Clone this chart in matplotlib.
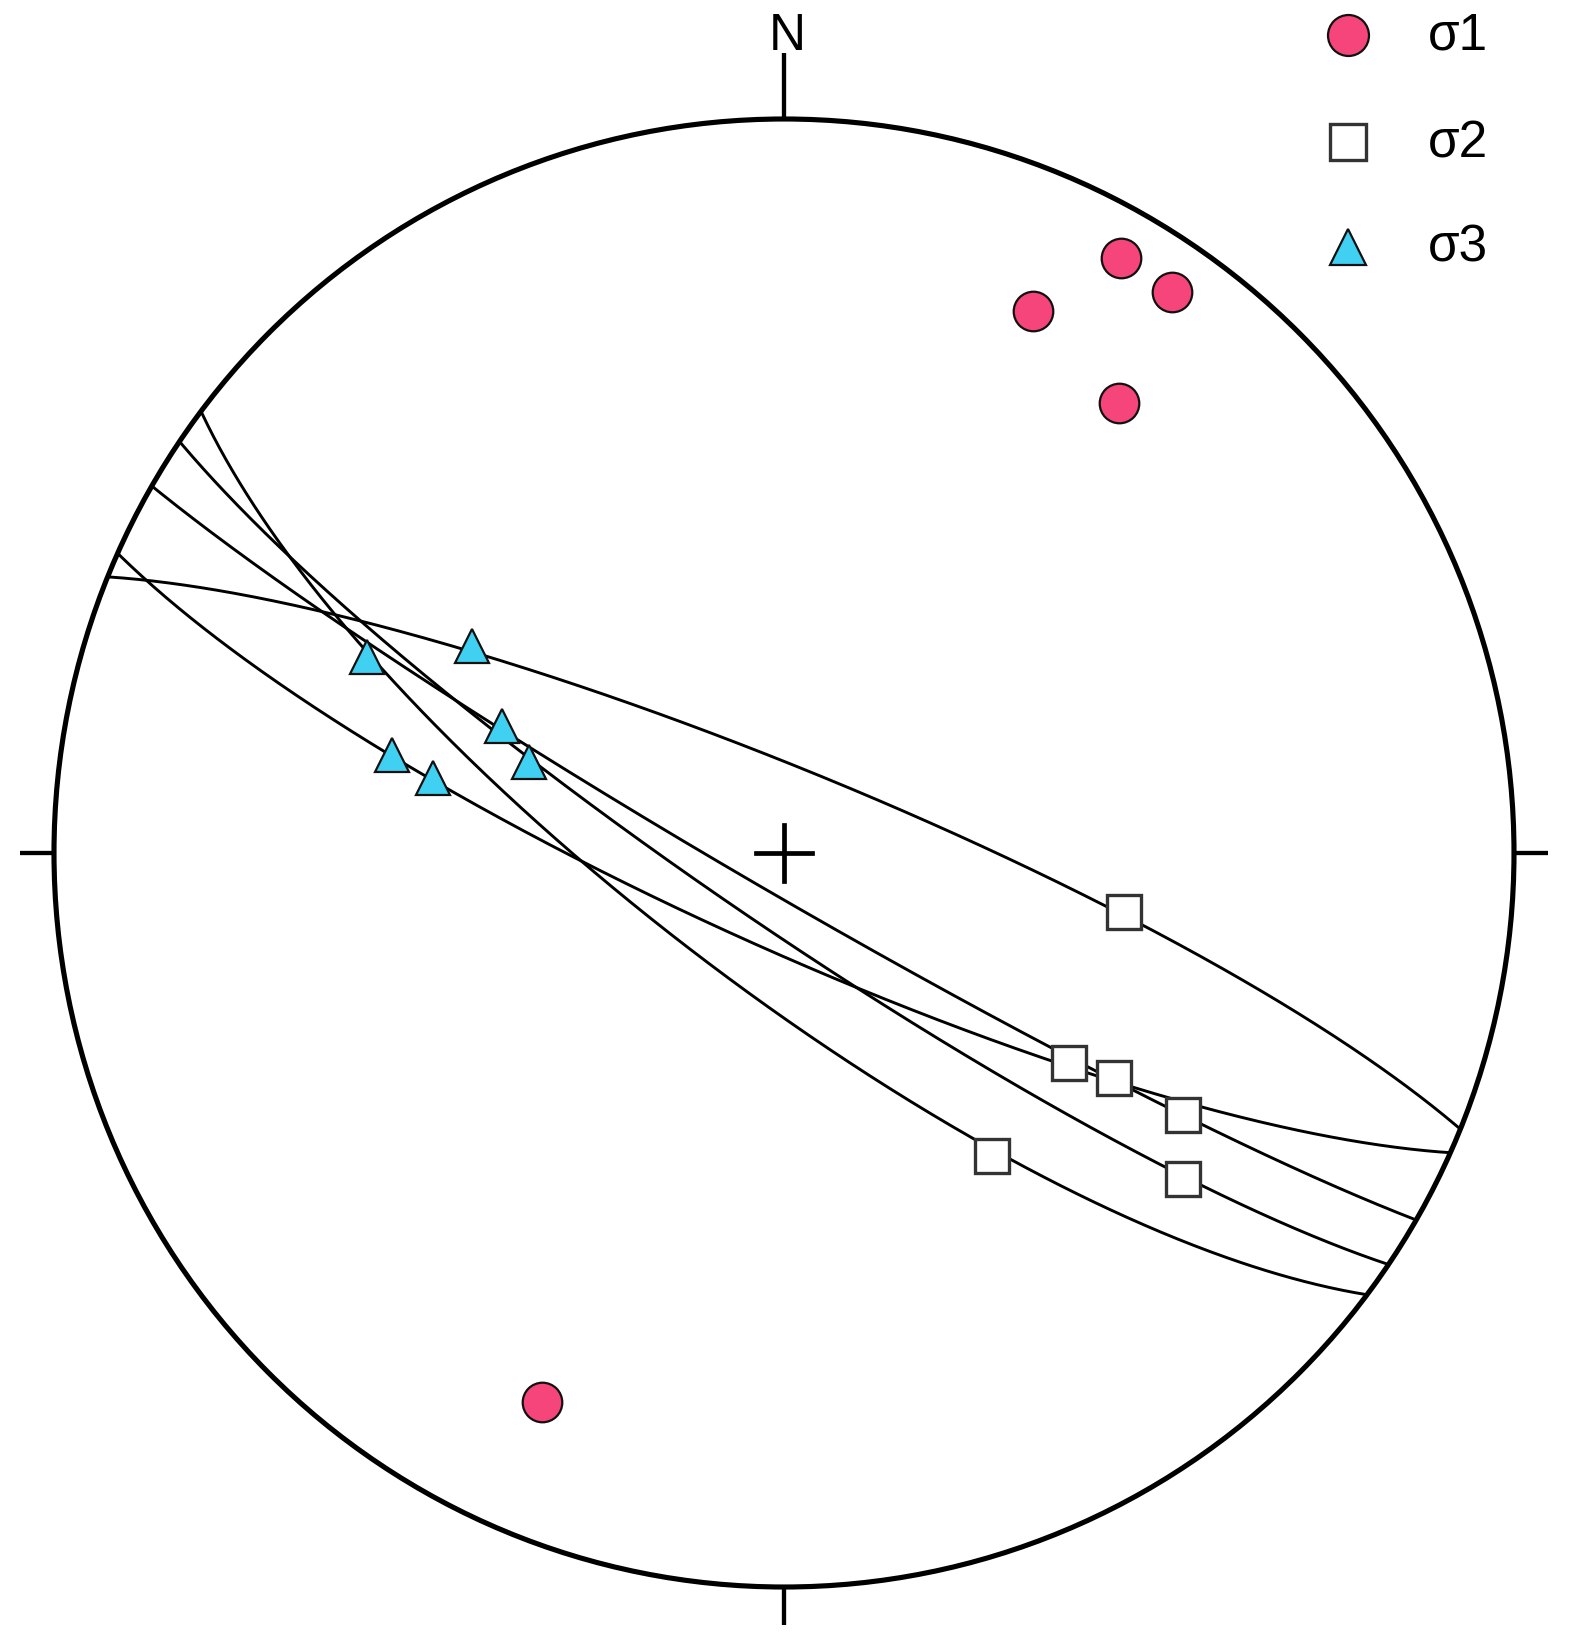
import numpy as np
import matplotlib
matplotlib.use('Agg')
import matplotlib.pyplot as plt
from matplotlib.patches import Circle

# planes: strike (right-hand rule) and dip, degrees
plane_strike = [127.0, 124.1, 120.0, 114.1, 292.1]
plane_dip = [75.2, 82.0, 85.5, 79.5, 80.6]

# stress axes: trend / plunge, degrees
s1_trend = [29.7, 34.8, 24.8, 36.8, 203.9]
s1_plunge = [7.5, 7.6, 19.8, 24.5, 19.3]
s2_trend = [99.8, 126.3, 124.2, 123.1, 145.4, 129.1]
s2_plunge = [51.0, 50.0, 44.6, 35.0, 48.5, 30.2]
s3_trend = [295.0, 303.4, 294.1, 289.6, 284.0, 282.0]
s3_plunge = [37.0, 47.5, 55.2, 59.6, 43.9, 49.3]

labels = ['σ1', 'σ2', 'σ3']


def project(trend, plunge):
    # lower hemisphere equal-area (Schmidt)
    t = np.radians(np.asarray(trend, dtype=float))
    p = np.radians(np.asarray(plunge, dtype=float))
    r = np.sqrt(2) * np.sin((np.pi / 2 - p) / 2)
    return r * np.sin(t), r * np.cos(t)


def great_circle(strike, dip, n=400):
    s = np.radians(strike)
    d = np.radians(dip)
    sv = np.array([np.sin(s), np.cos(s), 0.0])
    dd = s + np.pi / 2
    dv = np.array([np.cos(d) * np.sin(dd), np.cos(d) * np.cos(dd), np.sin(d)])
    t = np.linspace(0, np.pi, n)
    v = np.outer(np.cos(t), sv) + np.outer(np.sin(t), dv)
    plunge = np.degrees(np.arcsin(np.clip(v[:, 2], -1, 1)))
    trend = np.degrees(np.arctan2(v[:, 0], v[:, 1]))
    return project(trend, plunge)


W, H = 1575, 1637
CX, CY, RX, RY = 784, 853, 730, 734


def px(x, y):
    # pixel position -> data coords (used only for annotations)
    return (x - CX) / RX, (CY - y) / RY


fig = plt.figure(figsize=(W / 100, H / 100), dpi=100)
ax = fig.add_axes([0, 0, 1, 1])
ax.set_xlim(-CX / RX, (W - CX) / RX)
ax.set_ylim((CY - H) / RY, CY / RY)
ax.axis('off')

ax.add_patch(Circle((0, 0), 1, fill=False, lw=3.7, color='black', zorder=2))

# N, E, S, W ticks
ax.plot([0, 0], [1, px(0, 53)[1]], color='black', lw=3.1, solid_capstyle='butt')
ax.plot([1, px(1548, 0)[0]], [0, 0], color='black', lw=3.1, solid_capstyle='butt')
ax.plot([-1, px(20, 0)[0]], [0, 0], color='black', lw=3.1, solid_capstyle='butt')
ax.plot([0, 0], [-1, px(0, 1625)[1]], color='black', lw=3.1, solid_capstyle='butt')

# centre cross
cx = 28 / RX
cy = 28 / RY
ax.plot([-cx, cx], [0, 0], color='black', lw=3.4)
ax.plot([0, 0], [-cy, cy], color='black', lw=3.4)

nx, ny = px(787, 50)
ax.text(nx, ny, 'N', fontsize=37, family='Liberation Sans', ha='center', va='baseline')

for st, dp in zip(plane_strike, plane_dip):
    gx, gy = great_circle(st, dp)
    ax.plot(gx, gy, color='black', lw=2.1, zorder=3)

x1, y1 = project(s1_trend, s1_plunge)
x2, y2 = project(s2_trend, s2_plunge)
x3, y3 = project(s3_trend, s3_plunge)

ax.plot(x1, y1, 'o', ms=28.5, mfc='#F5457A', mec='#111111', mew=1.6, zorder=5)
ax.plot(x2, y2, 's', ms=25, mfc='white', mec='#333333', mew=2.4, zorder=5)
ax.plot(x3, y3, '^', ms=24.5, mfc='#3FD0F2', mec='#111111', mew=1.6, zorder=5)

# legend
leg_y = [35, 142, 247]
leg_base = [50, 157, 262]
styles = [dict(marker='o', ms=29.5, mfc='#F5457A', mec='#111111', mew=1.6),
          dict(marker='s', ms=25.7, mfc='white', mec='#333333', mew=2.4),
          dict(marker='^', ms=26.6, mfc='#3FD0F2', mec='#111111', mew=1.6)]
for yy, yb, lab, sty in zip(leg_y, leg_base, labels, styles):
    mx, my = px(1348, yy)
    ax.plot([mx], [my], linestyle='none', clip_on=False, zorder=5, **sty)
    tx, ty = px(1428, yb)
    ax.text(tx, ty, lab, fontsize=37, family='Liberation Sans', ha='left', va='baseline')

fig.savefig('out.png', dpi=100)
